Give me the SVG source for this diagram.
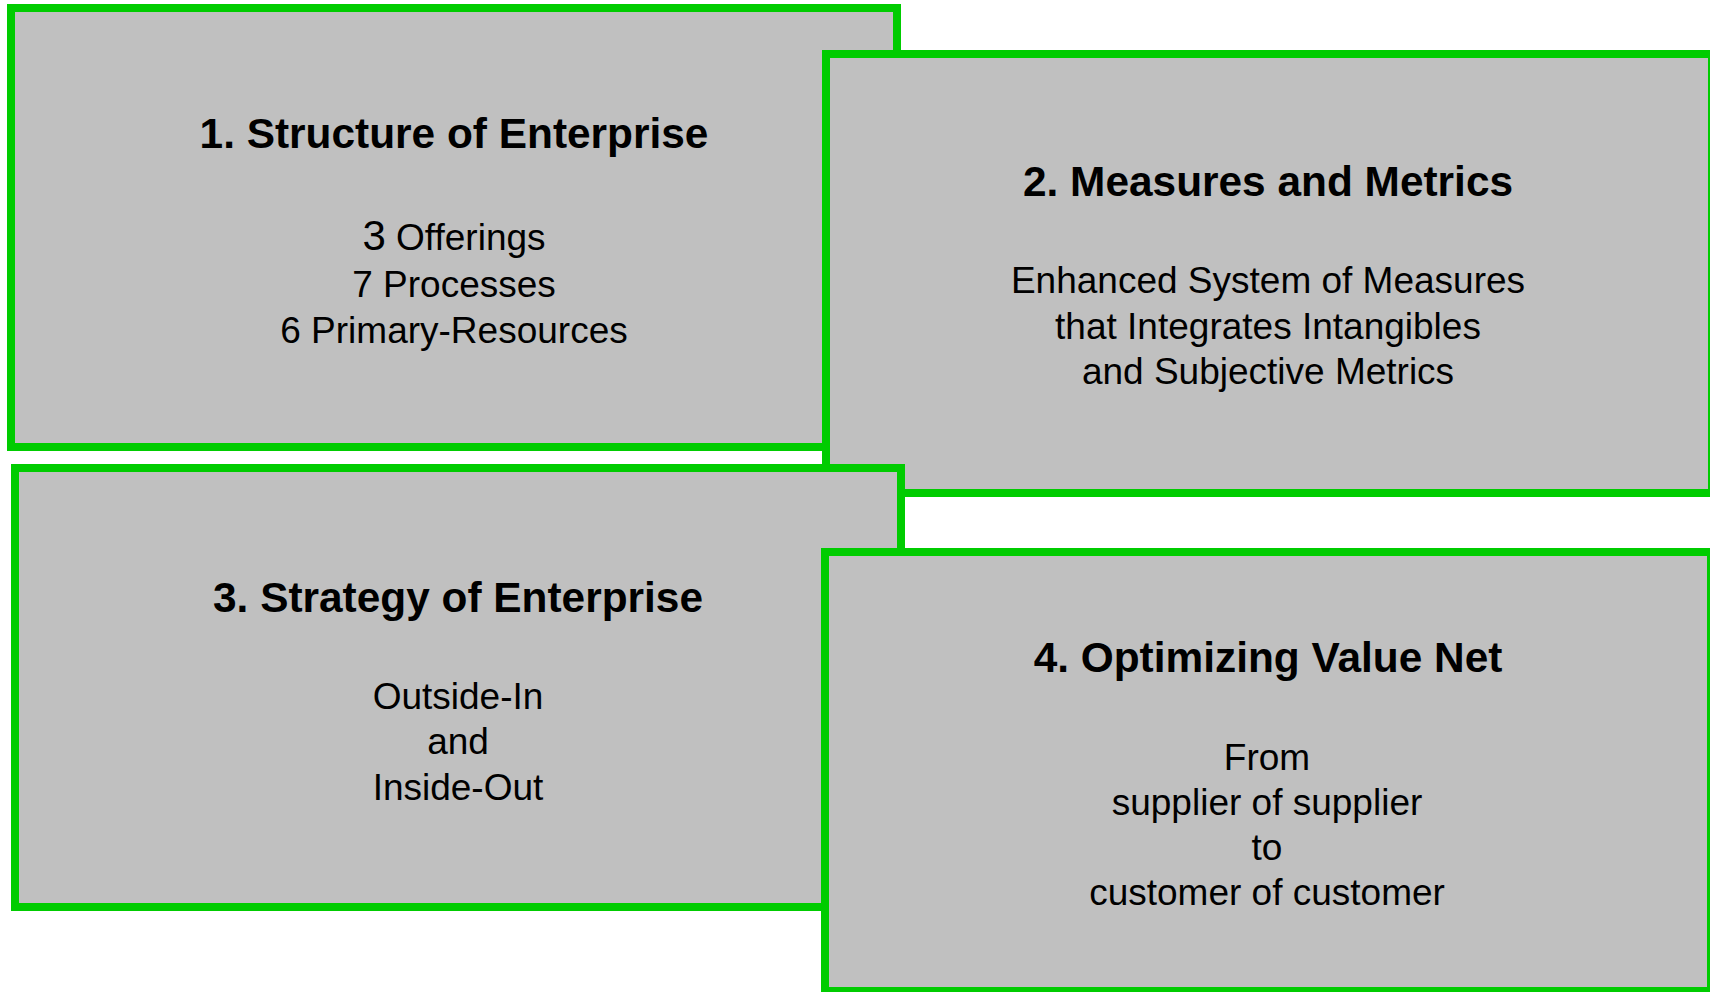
<svg xmlns="http://www.w3.org/2000/svg" width="1710" height="992" viewBox="0 0 1710 992">
<style>
.box{fill:#C0C0C0;stroke:#00CC00;stroke-width:8}
text{font-family:"Liberation Sans",Arial,sans-serif;fill:#000;text-anchor:middle;font-size:37px}
.t{font-weight:bold;font-size:42.4px}
</style>
<rect width="1710" height="992" fill="#FFFFFF"/>
<g id="node1">
<rect class="box" x="11" y="8" width="886" height="439"/>
<text class="t" x="454" y="148">1. Structure of Enterprise</text>
<text x="454" y="250"><tspan font-size="42">3</tspan> Offerings</text>
<text x="454" y="296.5">7 Processes</text>
<text x="454" y="342.5">6 Primary-Resources</text>
</g>
<g id="node2">
<rect class="box" x="826" y="54" width="886" height="439"/>
<text class="t" x="1268" y="196">2. Measures and Metrics</text>
<text x="1268" y="293">Enhanced System of Measures</text>
<text x="1268" y="338.5">that Integrates Intangibles</text>
<text x="1268" y="384">and Subjective Metrics</text>
</g>
<g id="node3">
<rect class="box" x="15" y="468" width="886" height="439"/>
<text class="t" x="458" y="612">3. Strategy of Enterprise</text>
<text x="458" y="708.5">Outside-In</text>
<text x="458" y="754">and</text>
<text x="458" y="799.5">Inside-Out</text>
</g>
<g id="node4">
<rect class="box" x="825" y="552" width="886" height="439"/>
<text class="t" x="1268" y="672">4. Optimizing Value Net</text>
<text x="1267" y="769.5">From</text>
<text x="1267" y="814.5">supplier of supplier</text>
<text x="1267" y="859.5">to</text>
<text x="1267" y="904.5">customer of customer</text>
</g>
<g id="connectors"></g>
</svg>
